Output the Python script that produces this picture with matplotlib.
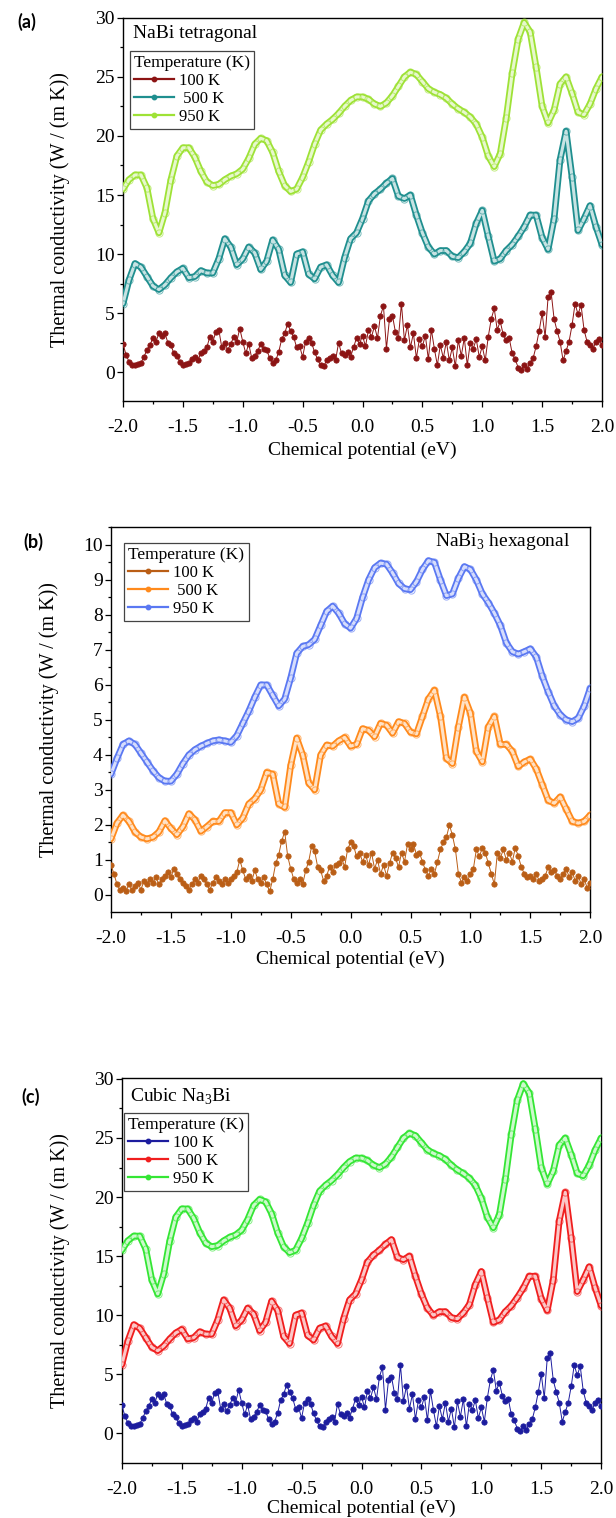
import numpy as np
import matplotlib
matplotlib.use("Agg")
import matplotlib.pyplot as plt
from matplotlib.lines import Line2D
from matplotlib.ticker import MultipleLocator
from matplotlib.colors import to_rgb

plt.rcParams.update({
    "font.family": "Liberation Serif",
    "mathtext.fontset": "custom",
    "mathtext.rm": "Liberation Serif",
    "axes.unicode_minus": False,
})

# ---------------- data ----------------
mu_coarse = np.linspace(-2.0, 2.0, 81)    # 0.05 eV grid
mu_fine = np.linspace(-2.0, 2.0, 161)     # 0.025 eV grid

# NaBi tetragonal / cubic Na3Bi (same curves)
k950_a = [15.5, 16.3, 16.7, 16.7, 15.6, 13.0, 11.8, 13.5, 16.3, 18.3,
          19.0, 19.0, 18.2, 17.0, 16.1, 15.8, 15.9, 16.3, 16.6, 16.8,
          17.2, 18.1, 19.3, 19.8, 19.6, 18.6, 17.0, 15.8, 15.3, 15.5,
          16.5, 17.8, 19.3, 20.5, 21.0, 21.4, 21.9, 22.5, 23.0, 23.3,
          23.3, 23.1, 22.7, 22.5, 22.8, 23.4, 24.2, 25.0, 25.4, 25.2,
          24.6, 24.0, 23.7, 23.5, 23.2, 22.7, 22.3, 22.0, 21.6, 21.0,
          19.9, 18.3, 17.4, 18.5, 21.5, 25.3, 28.2, 29.6, 28.8, 25.8,
          22.5, 21.1, 22.2, 24.4, 25.0, 23.6, 22.0, 21.8, 22.7, 24.0,
          25.0]
k500_a = [5.8, 7.8, 9.2, 8.9, 8.1, 7.3, 7.0, 7.4, 8.0, 8.5,
          8.8, 8.0, 8.1, 8.6, 8.4, 8.4, 9.6, 11.3, 10.6, 9.1,
          9.6, 10.6, 10.1, 8.7, 9.4, 11.2, 10.4, 8.2, 7.6, 10.0,
          10.2, 8.3, 7.9, 8.9, 9.1, 8.2, 7.6, 9.7, 11.3, 11.8,
          13.0, 14.5, 15.1, 15.5, 16.0, 16.4, 14.9, 14.7, 15.0, 13.3,
          11.8, 10.6, 10.0, 10.3, 10.3, 9.8, 9.7, 10.2, 10.9, 12.6,
          13.7, 11.5, 9.4, 9.6, 10.3, 10.8, 11.5, 12.3, 13.3, 13.3,
          11.4, 10.4, 13.0, 18.0, 20.4, 16.5, 12.0, 13.0, 14.1, 12.3,
          10.8]
k100_a = [2.4, 1.5, 0.9, 0.6, 0.6, 0.7, 0.8, 1.3, 1.9, 2.3, 2.9, 2.6,
          3.3, 3.1, 3.3, 2.5, 2.3, 1.6, 1.4, 0.9, 0.6, 0.7, 0.8, 1.1,
          1.3, 1.0, 1.6, 1.8, 2.1, 3.0, 2.6, 3.4, 3.6, 2.1, 2.5, 1.9,
          2.4, 3.0, 2.6, 3.7, 2.6, 1.6, 2.4, 1.2, 1.4, 1.8, 2.4, 2.0,
          1.9, 1.2, 0.8, 1.0, 1.7, 2.8, 3.3, 4.1, 3.5, 3.0, 2.1, 2.2,
          1.3, 2.6, 2.9, 2.5, 1.7, 1.1, 0.6, 0.5, 1.0, 1.2, 1.4, 1.0,
          2.5, 1.6, 1.5, 1.7, 1.3, 2.1, 2.9, 2.4, 3.1, 2.2, 3.6, 3.0,
          3.9, 2.9, 4.8, 5.6, 2.0, 4.5, 4.8, 3.4, 2.9, 5.8, 2.7, 4.0,
          2.1, 3.3, 1.2, 2.8, 2.2, 3.1, 1.1, 3.6, 2.0, 0.6, 2.3, 1.2,
          2.6, 1.0, 2.1, 0.5, 2.7, 1.4, 2.9, 0.6, 2.5, 2.0, 2.8, 1.3,
          2.2, 1.0, 3.0, 4.5, 5.4, 3.6, 4.3, 3.2, 2.7, 2.9, 1.6, 1.1,
          0.4, 0.2, 0.6, 0.3, 0.8, 1.2, 2.2, 3.5, 5.0, 3.0, 6.4, 6.8,
          4.5, 3.5, 2.6, 1.0, 1.8, 2.6, 4.0, 5.8, 4.9, 5.7, 3.6, 2.6,
          2.3, 2.0, 2.6, 2.8, 2.3]

# NaBi3 hexagonal
k950_b = [3.45, 3.9, 4.3, 4.4, 4.3, 4.05, 3.8, 3.55, 3.35, 3.25,
          3.25, 3.45, 3.75, 4.0, 4.15, 4.25, 4.33, 4.4, 4.43, 4.4,
          4.36, 4.55, 4.9, 5.25, 5.65, 6.0, 6.0, 5.7, 5.4, 5.6,
          6.2, 6.9, 7.1, 7.15, 7.3, 7.7, 8.1, 8.25, 8.05, 7.75,
          7.62, 7.9, 8.5, 9.0, 9.35, 9.48, 9.45, 9.2, 8.9, 8.75,
          8.72, 8.95, 9.3, 9.55, 9.5, 9.0, 8.55, 8.6, 9.05, 9.38,
          9.3, 9.0, 8.6, 8.35, 8.05, 7.7, 7.2, 6.95, 6.88, 6.95,
          7.03, 6.8, 6.25, 5.8, 5.4, 5.15, 5.0, 4.95, 5.05, 5.4,
          5.9]
k500_b = [1.6, 2.05, 2.28, 2.1, 1.8, 1.65, 1.6, 1.65, 1.8, 2.12,
          1.9, 1.72, 1.95, 2.32, 2.15, 1.82, 1.95, 2.1, 2.1, 2.35,
          2.35, 2.0, 2.2, 2.6, 2.75, 3.0, 3.5, 3.45, 2.6, 2.5,
          3.7, 4.48, 4.0, 3.2, 3.0, 4.0, 4.28, 4.25, 4.4, 4.5,
          4.25, 4.3, 4.75, 4.7, 4.52, 4.9, 4.85, 4.62, 4.95, 4.9,
          4.65, 4.6, 5.1, 5.6, 5.85, 5.1, 3.9, 3.75, 4.8, 5.65,
          5.2, 4.1, 3.8, 4.8, 5.1, 4.3, 4.3, 4.1, 3.67, 3.8,
          3.88, 3.6, 3.15, 2.7, 2.62, 2.8, 2.45, 2.1, 2.05, 2.1,
          2.28]
k100_b = [0.85, 0.6, 0.3, 0.15, 0.2, 0.1, 0.3, 0.15, 0.25, 0.35, 0.15, 0.4,
          0.3, 0.45, 0.35, 0.5, 0.3, 0.45, 0.55, 0.65, 0.5, 0.75, 0.6, 0.45,
          0.35, 0.25, 0.15, 0.3, 0.45, 0.35, 0.55, 0.45, 0.3, 0.15, 0.35, 0.5,
          0.4, 0.3, 0.45, 0.35, 0.45, 0.55, 0.65, 1.0, 0.7, 0.45, 0.55, 0.4,
          0.7, 0.45, 0.35, 0.5, 0.3, 0.1, 0.45, 0.9, 1.15, 1.55, 1.8, 1.1,
          0.75, 0.45, 0.35, 0.45, 0.3, 0.7, 0.95, 1.4, 1.25, 0.8, 0.7, 0.4,
          0.55, 0.8, 0.65, 0.85, 0.9, 1.05, 0.8, 1.3, 1.5, 1.4, 1.1, 1.2,
          0.95, 1.15, 0.85, 1.2, 0.75, 1.0, 0.6, 0.85, 0.55, 0.9, 1.2, 1.05,
          0.8, 1.2, 0.95, 1.45, 1.3, 1.45, 1.15, 1.2, 0.95, 0.7, 0.55, 0.75,
          0.6, 0.95, 1.3, 1.5, 1.65, 2.0, 1.7, 1.3, 0.6, 0.35, 0.5, 0.4,
          0.6, 0.75, 1.3, 1.1, 1.35, 1.2, 0.9, 0.6, 0.3, 1.2, 1.05, 1.3,
          1.0, 1.2, 0.95, 1.35, 1.1, 0.8, 0.6, 0.5, 0.55, 0.45, 0.6, 0.4,
          0.45, 0.55, 0.8, 0.65, 0.7, 0.55, 0.45, 0.6, 0.75, 0.5, 0.65, 0.4,
          0.55, 0.3, 0.45, 0.2, 0.35]

temp_labels = ["100 K", " 500 K", "950 K"]
xticks = [-2.0, -1.5, -1.0, -0.5, 0.0, 0.5, 1.0, 1.5, 2.0]

colors_a = ["#8C1414", "#1F8F8F", "#9EE236"]
colors_b = ["#BA5E16", "#FF8A1C", "#5A78F2"]
colors_c = ["#1C1C9E", "#F01E1E", "#34E634"]

W, H = 616, 1518
fig = plt.figure(figsize=(W / 100, H / 100), dpi=100)


def box(l, t, r, b):
    return [l / W, 1 - b / H, (r - l) / W, (b - t) / H]


def tint(c, f=0.75):
    r, g, b = to_rgb(c)
    return (r + (1 - r) * f, g + (1 - g) * f, b + (1 - b) * f)


def style_axes(ax, ylim, ymajor, yminor, ylab_x, xlab_y):
    ax.set_xlim(-2.0, 2.0)
    ax.set_ylim(*ylim)
    ax.set_xticks(xticks)
    ax.set_xticklabels([f"{t:.1f}" for t in xticks])
    ax.xaxis.set_minor_locator(MultipleLocator(0.25))
    ax.yaxis.set_major_locator(MultipleLocator(ymajor))
    ax.yaxis.set_minor_locator(MultipleLocator(yminor))
    ax.tick_params(which="both", direction="out", top=False, right=False,
                   labelsize=14, width=0.9)
    ax.tick_params(which="major", length=4.5)
    ax.tick_params(which="minor", length=2.5)
    ax.tick_params(axis="x", which="major", pad=8.5)
    ax.tick_params(axis="y", which="major", pad=1.5)
    for s in ax.spines.values():
        s.set_linewidth(1.0)
    ax.set_xlabel("Chemical potential (eV)", fontsize=14)
    ax.set_ylabel("Thermal conductivity (W / (m K))", fontsize=14.5)
    ax.xaxis.label.set_va("center")
    ax.yaxis.label.set_va("center")
    ax.xaxis.set_label_coords(0.5, xlab_y)
    ax.yaxis.set_label_coords(ylab_x, 0.5)


def draw_series(ax, colors, k100, k500, k950):
    ax.plot(mu_fine, k100, "-o", color=colors[0], lw=0.7, ms=3.8,
            mfc=colors[0], mec=colors[0], mew=0.6, zorder=3)
    for k, c in ((k500, colors[1]), (k950, colors[2])):
        # hollow-marker tube: dark outer stroke, pale core, sample dots
        ax.plot(mu_coarse, k, color=c, lw=4.8, solid_joinstyle="round",
                solid_capstyle="round", zorder=3)
        ax.plot(mu_coarse, k, color=tint(c), lw=2.2, solid_joinstyle="round",
                solid_capstyle="round", zorder=3)
        ax.plot(mu_coarse, k, "o", ls="none", ms=5.2, mfc="none", mec=c,
                mew=0.7, alpha=0.6, zorder=3)


def add_legend(ax, colors, anchor):
    handles = [Line2D([], [], color=c, lw=1.6, marker="o", ms=3.2,
                      mfc=c, mec=c) for c in colors]
    leg = ax.legend(handles, temp_labels, title="Temperature (K)",
                    loc="upper left", bbox_to_anchor=anchor,
                    borderaxespad=0.0, fontsize=12, title_fontsize=12.5,
                    frameon=True, fancybox=False, edgecolor="#444444",
                    framealpha=1.0, handlelength=2.4, handletextpad=0.3,
                    labelspacing=0.12, borderpad=0.25, numpoints=1,
                    alignment="left")
    leg.get_frame().set_linewidth(0.9)
    leg.set_zorder(5)
    return leg


# (a) NaBi tetragonal
ax_a = fig.add_axes(box(123, 17.5, 602, 401))
draw_series(ax_a, colors_a, k100_a, k500_a, k950_a)
style_axes(ax_a, (-2.43, 30.02), 5, 2.5, -0.131, -0.128)
add_legend(ax_a, colors_a, (0.0146, 0.9126))
ax_a.text(0.021, 0.958, "NaBi tetragonal", transform=ax_a.transAxes,
          fontsize=14, ha="left", va="center")

# (b) NaBi3 hexagonal
ax_b = fig.add_axes(box(111, 526.7, 590.2, 911.7))
draw_series(ax_b, colors_b, k100_b, k500_b, k950_b)
style_axes(ax_b, (-0.48, 10.52), 1, 0.5, -0.129, -0.125)
add_legend(ax_b, colors_b, (0.0278, 0.9584))
ax_b.text(0.958, 0.961, r"NaBi$_\mathrm{3}$ hexagonal",
          transform=ax_b.transAxes, fontsize=14, ha="right", va="center")

# (c) cubic Na3Bi
ax_c = fig.add_axes(box(121.8, 1078.3, 601.2, 1462.7))
draw_series(ax_c, colors_c, k100_a, k500_a, k950_a)
style_axes(ax_c, (-2.48, 30.05), 5, 2.5, -0.129, -0.118)
add_legend(ax_c, colors_c, (0.004, 0.9105))
ax_c.text(0.0164, 0.952, r"Cubic Na$_\mathrm{3}$Bi",
          transform=ax_c.transAxes, fontsize=14, ha="left", va="center")

# panel letters
for lab, (px, py) in {"(a)": (27, 22), "(b)": (33, 542), "(c)": (31, 1097)}.items():
    fig.text(px / W, 1 - py / H, lab, fontsize=13, fontweight="bold",
             family="Lato", ha="center", va="center")

fig.savefig("out.png", dpi=100)
